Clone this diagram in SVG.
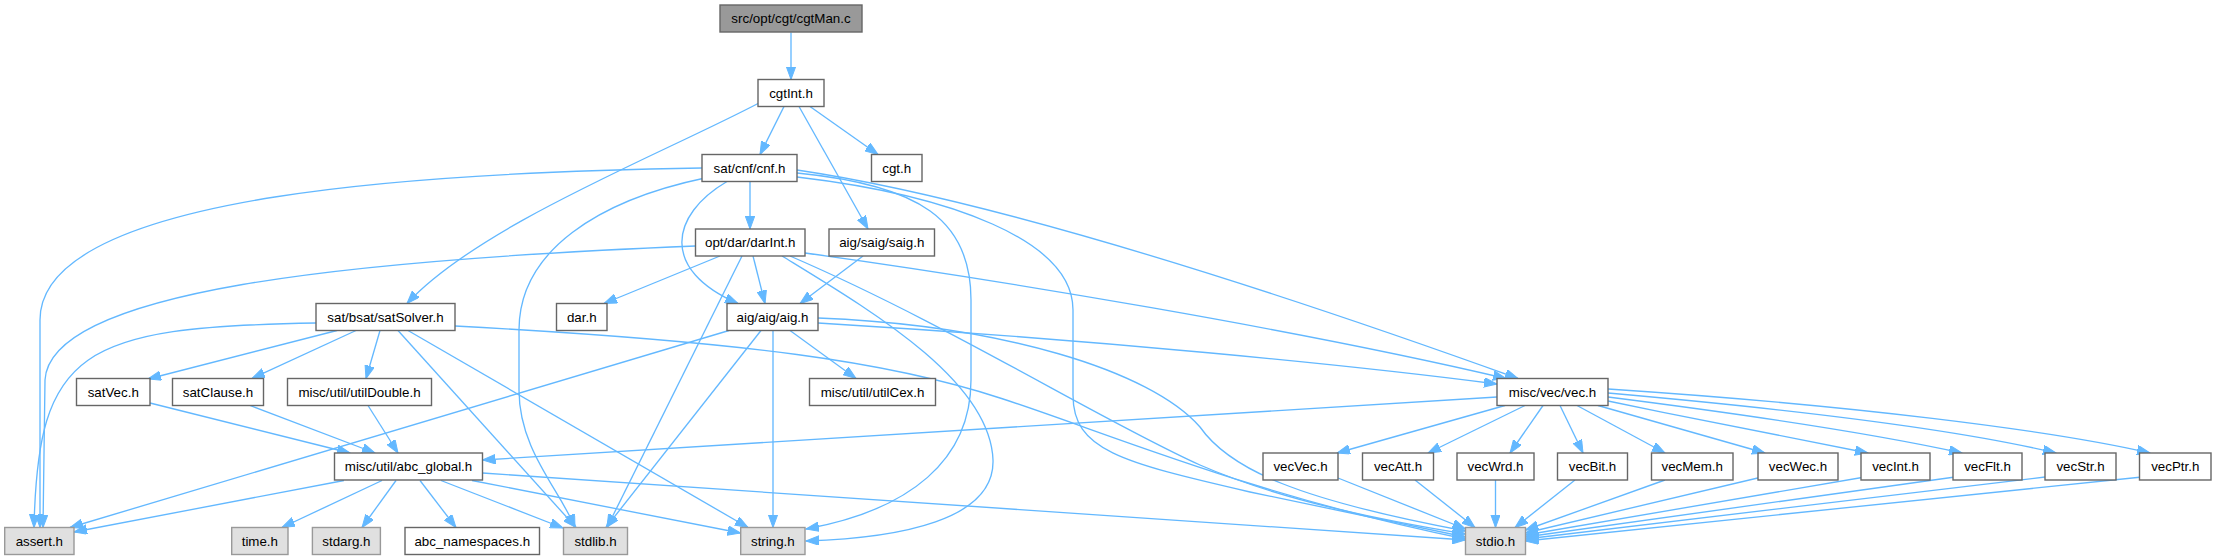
<svg xmlns="http://www.w3.org/2000/svg" width="2216" height="560" viewBox="0 0 2216 560">
<style>
.n rect{fill:#fff;stroke:#666;stroke-width:1.4}
.n.root rect{fill:#999;stroke:#666}
.n.sys rect{fill:#e0e0e0;stroke:#999}
.n text{font-family:"Liberation Sans",Arial,sans-serif;font-size:13.33px;fill:#000;text-anchor:middle}
#edges path{fill:none;stroke:#63b8ff;stroke-width:1.33;marker-end:url(#ah)}
</style>
<defs>
<marker id="ah" markerUnits="userSpaceOnUse" markerWidth="14" markerHeight="10" refX="13" refY="4.75" orient="auto" viewBox="0 0 14 10"><path d="M0,0 L13,4.75 L0,9.5 z" fill="#63b8ff" stroke="#63b8ff" stroke-width="1"/></marker>
</defs>
<rect width="2216" height="560" fill="#fff"/>
<g id="edges">
<path d="M791,32.5 L791,79.5"/>
<path d="M784,106.5 L760,154.5"/>
<path d="M810,106.5 L878,154.5"/>
<path d="M799,106.5 L868,229"/>
<path d="M759,103 C660,155 480,225 407,303.5"/>
<path d="M750,181.5 L750,229"/>
<path d="M727,181.5 C670,215 660,270 738,303.5"/>
<path d="M702,168 C450,172 40,190 40,320 L40,527.5"/>
<path d="M705,178 C600,200 519,250 519,330 L519,390 C519,450 560,490 575,527.5"/>
<path d="M797,173 C920,185 971,220 971,300 L971,380 C971,460 910,510 806,529"/>
<path d="M797,177 C950,195 1073,240 1073,310 L1073,395 C1073,450 1120,462 1250,492 L1465.5,537"/>
<path d="M797,170 C1000,200 1300,300 1518,378.5"/>
<path d="M720,256 L604,303.5"/>
<path d="M753,256 L765,303.5"/>
<path d="M695.5,246 C350,260 50,290 45,380 L43,527.5"/>
<path d="M742,256 L607,527.5"/>
<path d="M782,256 C870,310 990,380 993,460 C995,520 900,538 806,541"/>
<path d="M790,256 C950,325 1100,420 1200,465 C1280,500 1380,520 1465.5,534"/>
<path d="M805,253 C1000,280 1300,330 1506,378.5"/>
<path d="M863,256 L800,303.5"/>
<path d="M316,323 C80,327 38,350 34,527.5"/>
<path d="M337,330.5 L148,379"/>
<path d="M356,330.5 L252,378.5"/>
<path d="M380,330.5 L366,378.5"/>
<path d="M398,330.5 L576,527.5"/>
<path d="M408,330.5 L748,527.5"/>
<path d="M455,326 C750,342 890,362 1000,398 C1100,430 1250,495 1465.5,539"/>
<path d="M729,330.5 L70,527.5"/>
<path d="M790,330.5 L856,378.5"/>
<path d="M773,330.5 L773,527.5"/>
<path d="M761,330.5 L606,527.5"/>
<path d="M818,318 C1000,325 1150,370 1200,427 C1230,470 1300,500 1465.5,531"/>
<path d="M818,323 C1100,340 1350,365 1497,384"/>
<path d="M150,403 L350,453"/>
<path d="M250,405.5 L375,453"/>
<path d="M368,405.5 L398,453"/>
<path d="M1497,397 L482.5,460"/>
<path d="M1505,405.5 L1337,453"/>
<path d="M1525,405.5 L1428,453"/>
<path d="M1543,405.5 L1510,453"/>
<path d="M1560,405.5 L1583,453"/>
<path d="M1577,405.5 L1665,453"/>
<path d="M1598,405.5 L1765,453"/>
<path d="M1608,401 C1700,420 1800,440 1868,453"/>
<path d="M1608,397 C1750,415 1880,435 1962,453"/>
<path d="M1608,393 C1800,410 1960,430 2056,453"/>
<path d="M1608,389 C1850,405 2050,430 2150,453"/>
<path d="M344,480.5 L74,532"/>
<path d="M382,480.5 L282,527.5"/>
<path d="M396,480.5 L362,527.5"/>
<path d="M420,480.5 L456,527.5"/>
<path d="M441,480.5 L563,528"/>
<path d="M472,480.5 L740.5,533"/>
<path d="M482.5,473 L1465.5,540"/>
<path d="M1338,478 L1465.5,529"/>
<path d="M1415,480 L1475,527.5"/>
<path d="M1495.5,480 L1495.5,527.5"/>
<path d="M1575,480 L1515,527.5"/>
<path d="M1665,480 L1525.5,530"/>
<path d="M1762,477 L1525.5,533"/>
<path d="M1865,477 L1525.5,535"/>
<path d="M1955,477 L1525.5,537"/>
<path d="M2045,477 L1525.5,539"/>
<path d="M2142,477 L1525.5,541"/>
</g>
<g id="cgtMan" class="n root"><rect x="720" y="5" width="142" height="27"/><text x="791" y="23.3">src/opt/cgt/cgtMan.c</text></g>
<g id="cgtInt" class="n"><rect x="758" y="79.5" width="66" height="27"/><text x="791" y="97.8">cgtInt.h</text></g>
<g id="cnf" class="n"><rect x="702" y="154.5" width="95" height="27"/><text x="749.5" y="172.8">sat/cnf/cnf.h</text></g>
<g id="cgt" class="n"><rect x="871.5" y="154.5" width="50.5" height="27"/><text x="896.75" y="172.8">cgt.h</text></g>
<g id="darInt" class="n"><rect x="695.5" y="229" width="109.5" height="27"/><text x="750.25" y="247.3">opt/dar/darInt.h</text></g>
<g id="saig" class="n"><rect x="829" y="229" width="105.5" height="27"/><text x="881.75" y="247.3">aig/saig/saig.h</text></g>
<g id="satSolver" class="n"><rect x="316" y="303.5" width="139" height="27"/><text x="385.5" y="321.8">sat/bsat/satSolver.h</text></g>
<g id="dar" class="n"><rect x="556.5" y="303.5" width="50.5" height="27"/><text x="581.75" y="321.8">dar.h</text></g>
<g id="aig" class="n"><rect x="727" y="303.5" width="91" height="27"/><text x="772.5" y="321.8">aig/aig/aig.h</text></g>
<g id="satVec" class="n"><rect x="76.5" y="378.5" width="73.5" height="27"/><text x="113.25" y="396.8">satVec.h</text></g>
<g id="satClause" class="n"><rect x="172.5" y="378.5" width="91" height="27"/><text x="218" y="396.8">satClause.h</text></g>
<g id="utilDouble" class="n"><rect x="287.5" y="378.5" width="144" height="27"/><text x="359.5" y="396.8">misc/util/utilDouble.h</text></g>
<g id="utilCex" class="n"><rect x="809.5" y="378.5" width="126" height="27"/><text x="872.5" y="396.8">misc/util/utilCex.h</text></g>
<g id="vec" class="n"><rect x="1497" y="378.5" width="111" height="27"/><text x="1552.5" y="396.8">misc/vec/vec.h</text></g>
<g id="abc_global" class="n"><rect x="334.5" y="453" width="148" height="27"/><text x="408.5" y="471.3">misc/util/abc_global.h</text></g>
<g id="vecVec" class="n"><rect x="1263" y="453" width="75" height="27"/><text x="1300.5" y="471.3">vecVec.h</text></g>
<g id="vecAtt" class="n"><rect x="1362.5" y="453" width="71" height="27"/><text x="1398" y="471.3">vecAtt.h</text></g>
<g id="vecWrd" class="n"><rect x="1457" y="453" width="77" height="27"/><text x="1495.5" y="471.3">vecWrd.h</text></g>
<g id="vecBit" class="n"><rect x="1557.5" y="453" width="70" height="27"/><text x="1592.5" y="471.3">vecBit.h</text></g>
<g id="vecMem" class="n"><rect x="1651.5" y="453" width="81.5" height="27"/><text x="1692.25" y="471.3">vecMem.h</text></g>
<g id="vecWec" class="n"><rect x="1758" y="453" width="80" height="27"/><text x="1798" y="471.3">vecWec.h</text></g>
<g id="vecInt" class="n"><rect x="1861" y="453" width="69" height="27"/><text x="1895.5" y="471.3">vecInt.h</text></g>
<g id="vecFlt" class="n"><rect x="1953" y="453" width="69" height="27"/><text x="1987.5" y="471.3">vecFlt.h</text></g>
<g id="vecStr" class="n"><rect x="2045" y="453" width="71" height="27"/><text x="2080.5" y="471.3">vecStr.h</text></g>
<g id="vecPtr" class="n"><rect x="2139.5" y="453" width="71.5" height="27"/><text x="2175.25" y="471.3">vecPtr.h</text></g>
<g id="assert" class="n sys"><rect x="4.7" y="527.5" width="69.3" height="27"/><text x="39.35" y="545.8">assert.h</text></g>
<g id="time" class="n sys"><rect x="231.7" y="527.5" width="56.3" height="27"/><text x="259.85" y="545.8">time.h</text></g>
<g id="stdarg" class="n sys"><rect x="312.4" y="527.5" width="68" height="27"/><text x="346.4" y="545.8">stdarg.h</text></g>
<g id="abc_namespaces" class="n"><rect x="405" y="527.5" width="134.5" height="27"/><text x="472.25" y="545.8">abc_namespaces.h</text></g>
<g id="stdlib" class="n sys"><rect x="563.5" y="527.5" width="64" height="27"/><text x="595.5" y="545.8">stdlib.h</text></g>
<g id="string" class="n sys"><rect x="740.7" y="527.5" width="64.3" height="27"/><text x="772.85" y="545.8">string.h</text></g>
<g id="stdio" class="n sys"><rect x="1465.5" y="527.5" width="60" height="27"/><text x="1495.5" y="545.8">stdio.h</text></g>
</svg>
